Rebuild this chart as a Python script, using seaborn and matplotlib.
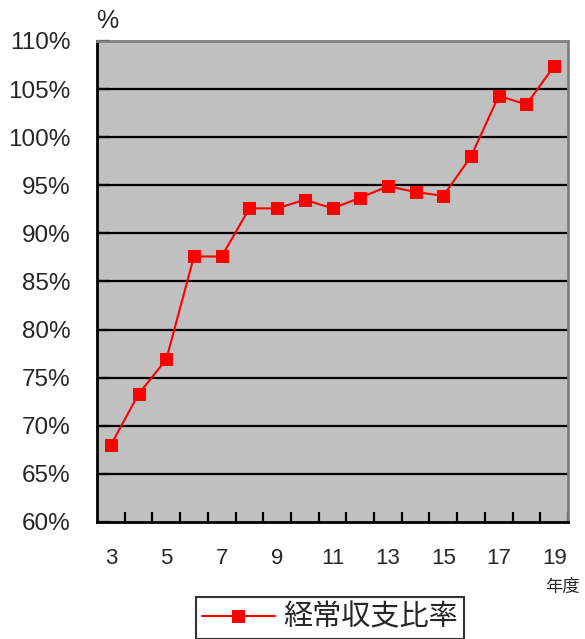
import numpy as np
import pandas as pd
import matplotlib
matplotlib.use("Agg")
import matplotlib.pyplot as plt
import seaborn as sns

# -------------------------------
# Data
# -------------------------------
years = [3, 4, 5, 6, 7, 8, 9, 10, 11, 12, 13, 14, 15, 16, 17, 18, 19]
ratio = [68.0, 73.3, 76.9, 87.6, 87.6, 92.6, 92.6, 93.5, 92.6, 93.7,
         94.9, 94.3, 93.9, 98.0, 104.3, 103.4, 107.4]
series_name = "経常収支比率"
y_ticks = [60, 65, 70, 75, 80, 85, 90, 95, 100, 105, 110]
x_labels = [3, 5, 7, 9, 11, 13, 15, 17, 19]

df = pd.DataFrame({"年度": years, series_name: ratio})

sns.set_style("white")
plt.rcParams["font.family"] = ["Liberation Sans", "Noto Sans CJK JP"]

fig = plt.figure(figsize=(5.85, 6.39), dpi=100)
ax = fig.add_axes([97 / 585, 1 - 522 / 639, 471 / 585, 481 / 639])
ax.set_facecolor("#C0C0C0")

# horizontal grid lines
for v in y_ticks[1:-1]:
    ax.axhline(v, color="black", lw=1.6, zorder=1)

sns.lineplot(data=df, x="年度", y=series_name, ax=ax, color="#FF0000",
             lw=1.5, marker="s", markersize=8, markeredgecolor="#FF0000",
             zorder=3, legend=False)

ax.set_xlim(2.5, 19.5)
ax.set_ylim(60, 110)
ax.set_xticks(x_labels)
ax.set_xticklabels([str(v) for v in x_labels], fontsize=16)
ax.set_xticks(np.arange(3.5, 19.6, 1), minor=True)
ax.set_yticks(y_ticks)
ax.set_yticklabels([f"{v}%" for v in y_ticks], fontsize=17.5)
ax.tick_params(axis="x", which="major", length=0, pad=19)
ax.tick_params(axis="x", which="minor", direction="in", length=7, width=1.6,
               color="black", bottom=True)
ax.tick_params(axis="y", direction="in", length=9, width=1.6, color="black",
               left=True, pad=19)
ax.set_xlabel("")
ax.set_ylabel("")

for side in ["left", "bottom"]:
    ax.spines[side].set_color("black")
    ax.spines[side].set_linewidth(2)
for side in ["top", "right"]:
    ax.spines[side].set_color("#808080")
    ax.spines[side].set_linewidth(2)

fig.text(96 / 585, 1 - 21 / 639, "%", fontsize=18, ha="left", va="center")
fig.text(563 / 585, 1 - 587 / 639, "年度", fontsize=12.5, ha="center",
         va="center", family=["Noto Sans CJK JP"])

leg = fig.legend(ax.get_lines()[-1:], [series_name], loc="upper center",
                 bbox_to_anchor=(330 / 585, 1 - 597 / 639),
                 frameon=True, fancybox=False, edgecolor="black",
                 prop={"family": ["Noto Sans CJK JP"], "size": 21},
                 handlelength=2.5, borderpad=0.2, handletextpad=0.3,
                 borderaxespad=0)
leg.get_frame().set_linewidth(1.5)

fig.savefig("out.png", dpi=100)
